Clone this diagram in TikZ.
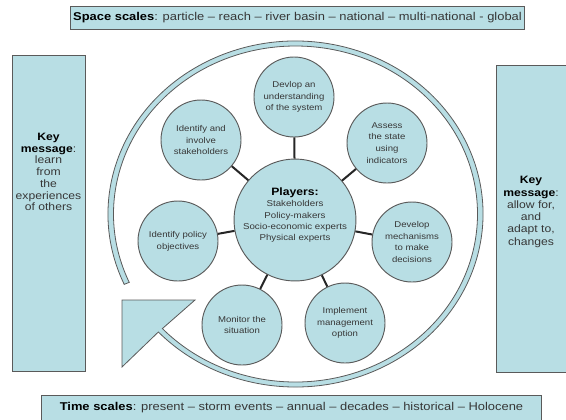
\documentclass[tikz,border=0pt]{standalone}
\usepackage{fontspec}
\setmainfont[FakeStretch=1.14]{Liberation Sans}
\usetikzlibrary{calc}
\definecolor{panel}{RGB}{184,222,228}
\definecolor{rim}{RGB}{90,90,90}
\definecolor{ink}{RGB}{55,55,55}

\begin{document}
\begin{tikzpicture}[x=0.75pt,y=0.75pt,yscale=-1,xscale=1,
  stage/.style={circle,draw=rim,fill=panel,line width=0.7pt,minimum size=60pt,inner sep=0pt,align=center,text=ink,font=\fontsize{6.3}{8.8}\selectfont},
  hub/.style={stage,minimum size=84pt,font=\fontsize{6.4}{8.5}\selectfont},
  banner/.style={draw=rim,fill=panel,line width=0.6pt,inner sep=0pt,text=ink,font=\fontsize{8.5}{10}\selectfont},
  keybox/.style={draw=rim,fill=panel,line width=0.6pt,inner sep=0pt},
  keytext/.style={align=center,text=ink,inner sep=0pt,font=\fontsize{8}{8.8}\selectfont},
  ringband/.style={draw=rim,fill=panel,line width=0.6pt},
  link/.style={draw=black!85,line width=1.5pt}]
\useasboundingbox (0,0) rectangle (566,419);

% Space and time scales
\node [banner,minimum width=341pt,minimum height=17.25pt] (space) at (297.5,18) {\textbf{\color{black}Space scales}: particle -- reach -- river basin -- national -- multi-national - global};
\node [banner,minimum width=375pt,minimum height=19pt] (time) at (291.5,408) {\textbf{\color{black}Time scales}: present -- storm events -- annual -- decades -- historical -- Holocene};

% Key messages
\node [keybox,minimum width=54.75pt,minimum height=237pt] (leftbox) at (48.5,213) {};
\node [keytext] (lefttext) at (48.5,172) {\textbf{\color{black}Key}\\\textbf{\color{black}message}:\\learn\\from\\the\\experiences\\of others};
\node [keybox,minimum width=55pt,minimum height=230.25pt] (rightbox) at (533.5,218.5) {};
\node [keytext,font=\fontsize{8}{9.2}\selectfont] (righttext) at (531,212) {\textbf{\color{black}Key}\\\textbf{\color{black}message}:\\allow for,\\and\\adapt to,\\changes};

%Shape: Ring with arrowhead
\coordinate (ringc) at (295.5,214);
\draw [ringband] ($(ringc)+(-204:187.5 and 173)$) arc [start angle=-204, end angle=137, x radius=187.5, y radius=173] -- (122,367) -- (122,300) -- (195,300) -- ($(ringc)+(137:182 and 168)$) arc [start angle=137, end angle=-204, x radius=182, y radius=168] -- cycle;

%Shape: Circles
\node [hub] (players) at (295,220) {{\fontsize{8}{9}\selectfont\bfseries\color{black}Players:}\\Stakeholders\\Policy-makers\\Socio-economic experts\\Physical experts\\\mbox{}};
\node [stage] (understand) at (294,97) {Devlop an\\understanding\\of the system};
\node [stage] (involve) at (201,140) {Identify and\\involve\\stakeholders};
\node [stage] (assess) at (387,143) {Assess\\the state\\using\\indicators};
\node [stage] (objectives) at (178,241) {Identify policy\\objectives};
\node [stage] (decide) at (412,242) {Develop\\mechanisms\\to make\\decisions};
\node [stage] (monitor) at (242,325) {Monitor the\\situation};
\node [stage] (implement) at (345,323) {Implement\\management\\option};

%Straight Lines
\foreach \s in {understand,involve,assess,objectives,decide,monitor,implement}
  \draw [link] (players) -- (\s);

\end{tikzpicture}
\end{document}
